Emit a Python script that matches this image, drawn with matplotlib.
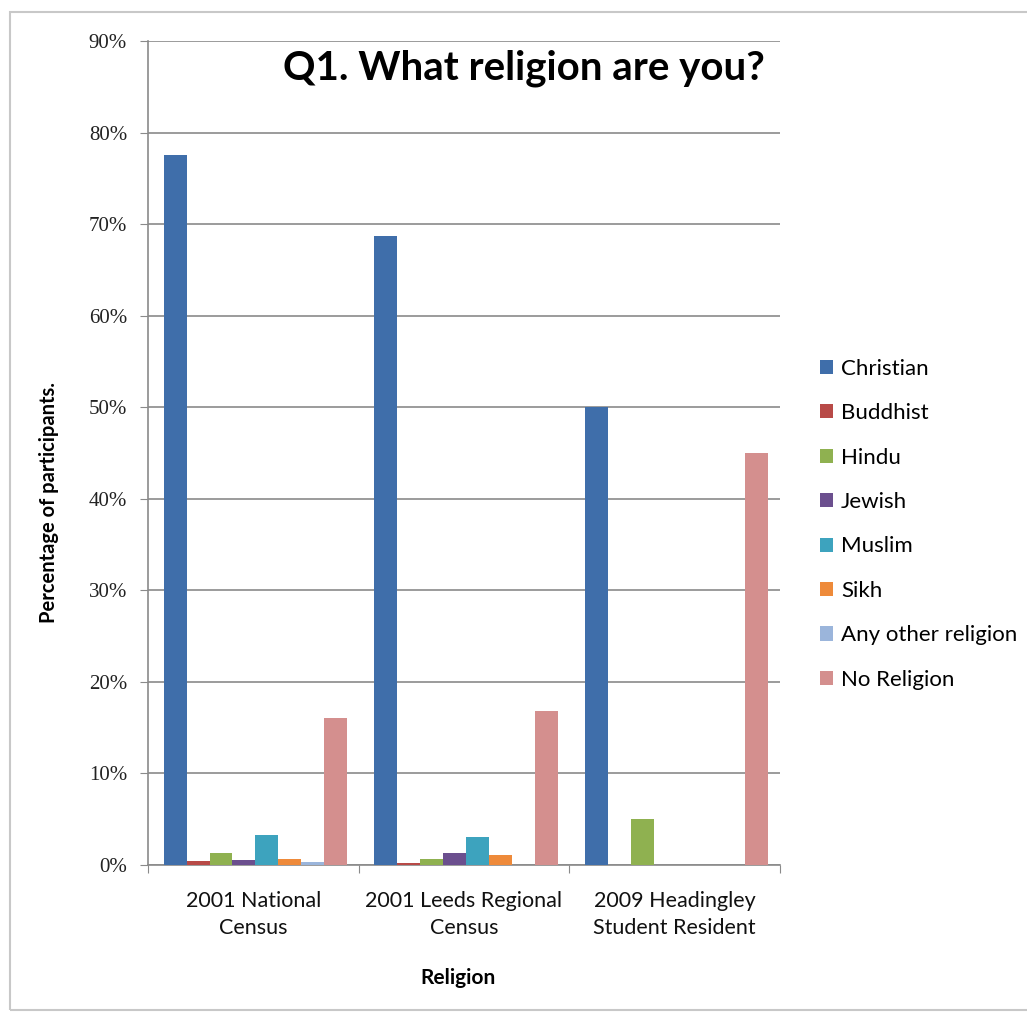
import numpy as np
import matplotlib.pyplot as plt
from matplotlib.patches import Rectangle
from matplotlib.ticker import FuncFormatter

# data (percent)
groups = ["2001 National\nCensus", "2001 Leeds Regional\nCensus", "2009 Headingley\nStudent Resident"]
religions = ["Christian", "Buddhist", "Hindu", "Jewish", "Muslim", "Sikh",
             "Any other religion", "No Religion"]
christian = [77.6, 68.7, 50.0]
buddhist = [0.4, 0.2, 0.0]
hindu = [1.3, 0.6, 5.0]
jewish = [0.5, 1.3, 0.0]
muslim = [3.3, 3.1, 0.0]
sikh = [0.7, 1.1, 0.0]
other = [0.3, 0.0, 0.0]
no_religion = [16.0, 16.8, 45.0]

colors = ["#3F6EAA", "#B84A47", "#8FB150", "#6B4F8E", "#3DA3BE", "#EE8A3A",
          "#9BB5DB", "#D48F8E"]

series = [christian, buddhist, hindu, jewish, muslim, sikh, other, no_religion]

fig = plt.figure(figsize=(10.27, 10.17), dpi=100)
ax = fig.add_axes([0.144, 0.1495, 0.6155, 0.8102])

# outer chart border
fig.patches.append(Rectangle((0.010, 0.007), 1.2, 0.981, transform=fig.transFigure,
                             fill=False, edgecolor="#c8c8c8", linewidth=1.5))

x = np.arange(len(groups))
w = 1 / 9.2
for i, (vals, name) in enumerate(zip(series, religions)):
    ax.bar(x + (i - 3.5) * w + 0.01, vals, width=w, color=colors[i], label=name, zorder=3)

ax.set_xlim(-0.5, 2.5)
ax.set_ylim(0, 90)
ax.set_yticks(np.arange(0, 91, 10))
ax.yaxis.set_major_formatter(FuncFormatter(lambda v, p: f"{v:.0f}%"))
ax.grid(axis="y", color="#8a8a8a", linewidth=1.2, zorder=0)

for s in ["top", "right"]:
    ax.spines[s].set_visible(False)
ax.spines["left"].set_color("#8a8a8a")
ax.spines["bottom"].set_color("#8a8a8a")
ax.spines["left"].set_linewidth(1.2)
ax.spines["bottom"].set_linewidth(1.2)

ax.tick_params(axis="y", length=6, color="#8a8a8a", pad=9)
for lab in ax.get_yticklabels():
    lab.set_fontfamily("Liberation Serif")
    lab.set_fontsize(15)
    lab.set_color("#222222")

# group boundary ticks on the x axis
ax.set_xticks([-0.5, 0.5, 1.5, 2.5])
ax.set_xticklabels([])
ax.tick_params(axis="x", length=6, color="#8a8a8a")
for xi, g in zip(x, groups):
    ax.text(xi, -2.8, g, ha="center", va="top", fontsize=15.5, family="Lato",
            linespacing=1.45, color="#111111")

ax.set_xlabel("Religion", fontsize=15, fontweight="bold", family="Lato", labelpad=68)
ax.xaxis.set_label_coords(0.49, -0.125)
ax.set_ylabel("Percentage of participants.", fontsize=14.5, fontweight="bold", family="Lato")
ax.yaxis.set_label_coords(-0.14, 0.44)

ax.text(0.976, 0.967, "Q1. What religion are you?", transform=ax.transAxes,
        ha="right", va="center", fontsize=29, fontweight="bold", family="Lato")

fig.legend(loc="upper left", bbox_to_anchor=(0.779, 0.667), frameon=False,
           prop={"family": "Lato", "size": 16}, handlelength=0.6, handleheight=0.6,
           handletextpad=0.35, labelspacing=1.1)

fig.savefig("out.png", dpi=100)
